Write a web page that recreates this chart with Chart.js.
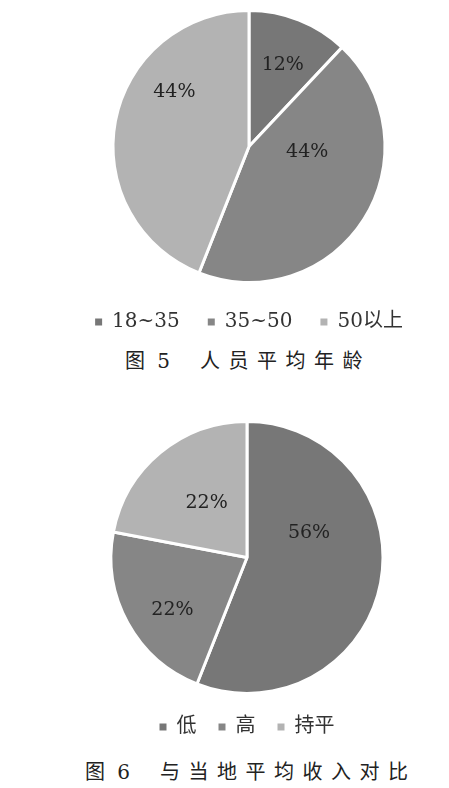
<!DOCTYPE html>
<html>
<head>
<meta charset="utf-8">
<script src="https://cdn.jsdelivr.net/npm/chart.js@4/dist/chart.umd.min.js"></script>
<style>
  body { margin: 0; background: #fff; width: 449px; height: 788px; position: relative; overflow: hidden; }
  .box { position: absolute; left: 0; width: 449px; }
  .cap { position: absolute; font-family: 'DejaVu Serif', 'Noto Sans CJK SC', serif; font-size: 20px; color: #222; white-space: nowrap; line-height: 1; }
  .num { letter-spacing: 3px; }
  .wide { letter-spacing: 8.5px; }
</style>
</head>
<body>
<div class="box" style="top:0;height:342px"><canvas id="ageChart"></canvas></div>
<div class="cap num" style="left:125px;top:351px">图 5</div>
<div class="cap wide" style="left:200px;top:351px">人员平均年龄</div>

<div class="box" style="top:410px;height:337px"><canvas id="incomeChart"></canvas></div>
<div class="cap num" style="left:85px;top:762px">图 6</div>
<div class="cap wide" style="left:160px;top:762px">与当地平均收入对比</div>

<script>
// 图5 人员平均年龄
const ageLabels = ['18~35', '35~50', '50以上'];
const ageValues = [12, 44, 44];
// 图6 与当地平均收入对比
const incomeLabels = ['低', '高', '持平'];
const incomeValues = [56, 22, 22];

const grays = ['#777777', '#868686', '#b3b3b3'];

// percent text inside each slice, placed along the arc (angle share, radius share)
const sliceLabels = {
    id: 'sliceLabels',
    afterDatasetsDraw(chart, args, opts) {
        const ctx = chart.ctx;
        const meta = chart.getDatasetMeta(0);
        const data = chart.data.datasets[0].data;
        ctx.save();
        ctx.font = opts.font;
        ctx.fillStyle = opts.color;
        ctx.textAlign = 'center';
        ctx.textBaseline = 'middle';
        meta.data.forEach((arc, i) => {
            const p = arc.getProps(['x', 'y', 'startAngle', 'endAngle', 'outerRadius'], true);
            const pos = opts.positions[i];
            const a = p.startAngle + (p.endAngle - p.startAngle) * pos[0];
            const r = p.outerRadius * pos[1];
            ctx.fillText(data[i] + '%', p.x + Math.cos(a) * r, p.y + Math.sin(a) * r);
        });
        ctx.restore();
    }
};

function dibujarPie(id, labels, values, positions, legendFont, legendPad, padding) {
    const ctx = document.getElementById(id).getContext('2d');
    return new Chart(ctx, {
        type: 'pie',
        data: {
            labels: labels,
            datasets: [{
                data: values,
                backgroundColor: grays,
                borderColor: '#ffffff',
                borderWidth: 3
            }]
        },
        options: {
            responsive: true,
            maintainAspectRatio: false,
            animation: false,
            layout: { padding: padding },
            plugins: {
                legend: {
                    position: 'bottom',
                    labels: {
                        boxWidth: 7,
                        boxHeight: 7,
                        padding: legendPad,
                        color: '#333333',
                        font: { family: "'DejaVu Serif', 'Noto Sans CJK SC', serif", size: legendFont },
                        // no white stroke on the little squares
                        generateLabels: chart => Chart.overrides.pie.plugins.legend.labels
                            .generateLabels(chart).map(l => Object.assign(l, { lineWidth: 0 }))
                    }
                },
                tooltip: { enabled: false },
                sliceLabels: {
                    positions: positions,
                    font: "19px 'DejaVu Serif', serif",
                    color: '#222222'
                }
            }
        },
        plugins: [sliceLabels]
    });
}

dibujarPie('ageChart', ageLabels, ageValues,
    [[0.52, 0.65], [0.33, 0.43], [0.66, 0.68]], 20, 28,
    { top: 9, left: 49, right: 0, bottom: 0 });

dibujarPie('incomeChart', incomeLabels, incomeValues,
    [[0.34, 0.49], [0.42, 0.67], [0.54, 0.5]], 20, 22,
    { top: 10, left: 45, right: 0, bottom: 0 });
</script>
</body>
</html>
